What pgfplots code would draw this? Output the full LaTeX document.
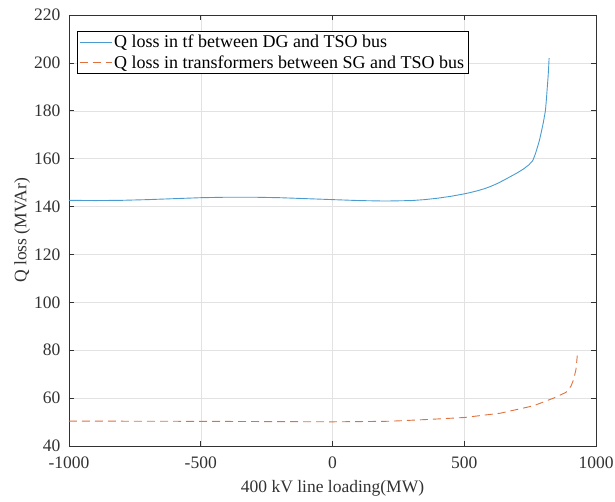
\documentclass[border=0pt]{standalone}
\usepackage{fontspec}
\setmainfont{Liberation Serif}
\usepackage{pgfplots}
\pgfplotsset{compat=1.18}

\definecolor{lossblue}{RGB}{74,156,208}
\definecolor{lossorange}{RGB}{224,112,60}
\definecolor{axgray}{RGB}{50,50,50}
\definecolor{gridgray}{RGB}{226,226,226}

% Q loss in the transformer between DG and TSO bus
\pgfplotstableread{
x y
-1000 142.6
-900 142.5
-800 142.6
-700 142.9
-600 143.3
-500 143.7
-400 143.9
-300 143.9
-200 143.7
-100 143.3
0 142.9
100 142.5
200 142.3
300 142.5
350 142.9
400 143.5
450 144.3
500 145.3
525 145.9
550 146.6
575 147.4
600 148.4
625 149.6
650 151.0
675 152.5
700 154.0
725 155.7
745 157.4
760 159.2
770 162.0
778 164.9
785 167.5
791 170.4
800 175.0
808 180.0
812 185.0
815 189.7
818 194.0
820 197.5
822 202.0
}\tfDG

% Q loss in the transformers between SG and TSO bus
\pgfplotstableread{
x y
-1000 50.4
-500 50.3
0 50.1
200 50.3
250 50.5
383 51.2
500 51.9
637 53.7
763 56.8
839 60.0
886 62.4
905 65.0
915 67.7
924 72.0
929 77.8
}\tfSG

\begin{document}
\begin{tikzpicture}
\useasboundingbox (-69pt,-55pt) rectangle (546pt,446pt);
\begin{axis}[
  at={(0pt,0pt)}, anchor=south west,
  scale only axis,
  width=527pt, height=431pt,
  xmin=-1000, xmax=1000, ymin=40, ymax=220,
  xtick={-1000,-500,...,1000},
  ytick={40,60,...,220},
  grid=major,
  major grid style={gridgray, line width=0.5pt},
  axis line style={axgray, line width=0.6pt},
  tick style={axgray, line width=0.6pt},
  major tick length=5pt,
  tick align=inside,
  ticklabel style={font=\fontsize{17.5}{20}\selectfont, text=axgray},
  xticklabel style={yshift=-7pt},
  yticklabel style={xshift=-5pt},
  /pgf/number format/assume math mode=true,
  /pgf/number format/1000 sep={},
  xlabel={400 kV line loading(MW)},
  ylabel={Q loss (MVAr)},
  label style={font=\fontsize{17.5}{20}\selectfont, text=axgray},
  xlabel style={at={(axis description cs:0.5,-0.099)}, anchor=center},
  ylabel style={at={(axis description cs:-0.089,0.5)}, anchor=center},
  legend cell align=left,
  legend style={at={(0.015,0.963)}, anchor=north west, draw=black,
    line width=0.6pt, font=\fontsize{18}{22}\selectfont, inner sep=2pt,
    row sep=2pt},
  legend image code/.code={\draw[#1] (0pt,0pt) -- (32pt,0pt);},
]
\addplot[lossblue, line width=0.9pt] table[x=x, y=y] {\tfDG};
\addlegendentry{Q loss in tf between DG and TSO bus}
\addplot[lossorange, line width=0.9pt, dash pattern=on 8pt off 5pt] table[x=x, y=y] {\tfSG};
\addlegendentry{Q loss in transformers between SG and TSO bus}
\end{axis}
\end{tikzpicture}
\end{document}
